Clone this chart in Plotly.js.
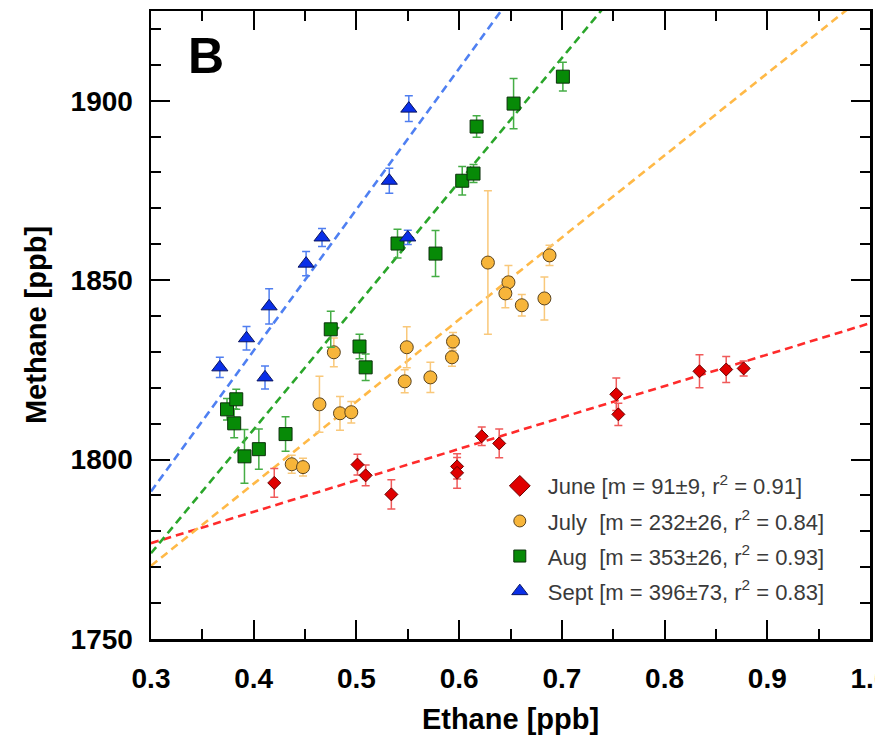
<!DOCTYPE html>
<html>
<head>
<meta charset="utf-8">
<script src="https://cdn.plot.ly/plotly-3.0.1.min.js"></script>
<style>
  html, body { margin: 0; padding: 0; background: #fff; }
  #chart { width: 875px; height: 736px; }
</style>
</head>
<body>
<div id="chart"></div>
<script>
// ---- Data ----
// June (red diamonds)
const juneX   = [0.420, 0.501, 0.509, 0.534, 0.598, 0.598, 0.622, 0.639, 0.753, 0.755, 0.834, 0.860, 0.877];
const juneY   = [1793.5, 1798.6, 1795.6, 1790.3, 1798.1, 1796.3, 1806.5, 1804.5, 1818.2, 1812.6, 1824.6, 1825.1, 1825.4];
const juneErr = [4.0, 2.9, 2.9, 4.1, 3.5, 4.3, 2.6, 4.0, 4.5, 3.1, 4.6, 3.6, 2.1];

// July (orange circles)
const julyX   = [0.437, 0.448, 0.464, 0.484, 0.495, 0.478, 0.549, 0.547, 0.572, 0.594, 0.593, 0.628, 0.648, 0.645, 0.661, 0.683, 0.688];
const julyY   = [1798.7, 1797.9, 1815.4, 1812.9, 1813.2, 1829.9, 1831.3, 1821.8, 1822.9, 1832.9, 1828.5, 1854.9, 1849.4, 1846.3, 1843.0, 1844.9, 1856.9];
const julyErr = [2.5, 2.5, 7.8, 4.7, 3.0, 4.0, 5.7, 3.2, 4.2, 2.5, 2.5, 20.0, 4.7, 4.0, 3.0, 6.0, 2.8];

// Aug (green squares)
const augX   = [0.374, 0.383, 0.381, 0.391, 0.405, 0.431, 0.475, 0.503, 0.509, 0.540, 0.577, 0.603, 0.614, 0.617, 0.653, 0.701];
const augY   = [1814.0, 1816.8, 1810.1, 1800.9, 1802.9, 1807.1, 1836.3, 1831.5, 1825.7, 1860.2, 1857.4, 1877.7, 1879.7, 1892.8, 1899.2, 1906.7];
const augErr = [3.0, 2.8, 4.0, 7.5, 5.6, 4.8, 5.0, 3.4, 3.7, 4.0, 6.4, 4.0, 2.5, 3.0, 7.0, 4.0];

// Sept (blue triangles)
const septX   = [0.367, 0.393, 0.415, 0.411, 0.451, 0.4665, 0.532, 0.550, 0.551];
const septY   = [1825.7, 1833.8, 1842.7, 1822.9, 1854.6, 1861.9, 1877.7, 1861.9, 1897.8];
const septErr = [2.8, 3.3, 4.9, 3.2, 3.4, 2.5, 3.5, 2.0, 3.6];

// Regression line end points (x = 0.3 and x = 1.0)
const fitX     = [0.3, 1.0];
const juneFitY = [1776.7, 1838.0];
const julyFitY = [1770.4, 1930.5];
const augFitY  = [1773.9, 2015.4];
const septFitY = [1791.1, 2066.2];

// Legend labels
const legendLabels = [
  'June [m = 91±9, r<sup>2</sup> = 0.91]',
  'July  [m = 232±26, r<sup>2</sup> = 0.84]',
  'Aug  [m = 353±26, r<sup>2</sup> = 0.93]',
  'Sept [m = 396±73, r<sup>2</sup> = 0.83]'
];

// Axis ticks
const xTickVals = [0.3, 0.4, 0.5, 0.6, 0.7, 0.8, 0.9, 1.0];
const xTickText = ['0.3', '0.4', '0.5', '0.6', '0.7', '0.8', '0.9', '1.0'];
const yTickVals = [1750, 1800, 1850, 1900];
const yTickText = ['1750', '1800', '1850', '1900'];

// ---- Styles ----
const S = {
  june: {fill: '#e00000', edge: '#6a0000', err: '#f05a5a', line: '#ff2b2b'},
  july: {fill: '#f7b53a', edge: '#5a4420', err: '#f9c87a', line: '#ffb947'},
  aug:  {fill: '#078a07', edge: '#0b300b', err: '#45ad45', line: '#2aa62a'},
  sept: {fill: '#0a2fe8', edge: '#0a1560', err: '#4f7ef0', line: '#4f80f2'}
};

function fitTrace(y, c) {
  return {x: fitX, y: y, mode: 'lines', type: 'scatter', showlegend: false, hoverinfo: 'skip',
          line: {color: c, width: 2.6, dash: '8px,5px'}};
}
function dataTrace(x, y, e, c, sym, size) {
  return {x: x, y: y, mode: 'markers', type: 'scatter', showlegend: false,
          error_y: {type: 'data', array: e, visible: true, color: c.err, thickness: 1.5, width: 4},
          marker: {symbol: sym, size: size, color: c.fill, line: {color: c.edge, width: 1}}};
}
function legendTrace(name, c, sym, size, g) {
  return {x: [null], y: [null], mode: 'markers', type: 'scatter', name: name, legendgroup: g,
          marker: {symbol: sym, size: size, color: c.fill, line: {color: c.edge, width: 1}}};
}

const traces = [
  fitTrace(juneFitY, S.june.line),
  fitTrace(julyFitY, S.july.line),
  fitTrace(augFitY, S.aug.line),
  fitTrace(septFitY, S.sept.line),
  dataTrace(juneX, juneY, juneErr, S.june, 'diamond', 10),
  dataTrace(julyX, julyY, julyErr, S.july, 'circle', 13),
  dataTrace(augX, augY, augErr, S.aug, 'square', 13),
  dataTrace(septX, septY, septErr, S.sept, 'triangle-up', 14),
  legendTrace(legendLabels[0], S.june, 'diamond', 20, 'g1'),
  legendTrace(legendLabels[1], S.july, 'circle', 12, 'g2'),
  legendTrace(legendLabels[2], S.aug, 'square', 12, 'g3'),
  legendTrace(legendLabels[3], S.sept, 'triangle-up', 14, 'g4')
];

const axisFont = {family: 'Liberation Sans, Arial, sans-serif', size: 28, color: '#000', weight: 'bold'};

const layout = {
  width: 875, height: 736,
  margin: {l: 151, r: 5, t: 11, b: 97, pad: 0},
  paper_bgcolor: '#fff', plot_bgcolor: '#fff',
  font: {family: 'Liberation Sans, Arial, sans-serif', color: '#000'},
  xaxis: {
    range: [0.3, 1.0], tickvals: xTickVals, ticktext: xTickText,
    ticks: 'inside', ticklen: 19, tickwidth: 2, tickcolor: '#000',
    minor: {dtick: 0.05, tick0: 0.3, ticks: 'inside', ticklen: 10, tickwidth: 2, tickcolor: '#000', showgrid: false},
    showline: true, linecolor: '#000', linewidth: 2.5, mirror: 'allticks',
    showgrid: false, zeroline: false,
    tickfont: axisFont, ticklabelstandoff: 13, ticklabeloverflow: 'allow',
    title: {text: '<b>Ethane [ppb]</b>', font: {family: 'Liberation Sans, Arial, sans-serif', size: 29, color: '#000'}, standoff: 16}
  },
  yaxis: {
    range: [1750, 1925], tickvals: yTickVals, ticktext: yTickText,
    ticks: 'inside', ticklen: 19, tickwidth: 2, tickcolor: '#000',
    minor: {dtick: 10, tick0: 1750, ticks: 'inside', ticklen: 10, tickwidth: 2, tickcolor: '#000', showgrid: false},
    showline: true, linecolor: '#000', linewidth: 2.5, mirror: 'allticks',
    showgrid: false, zeroline: false,
    tickfont: axisFont, ticklabelstandoff: 10,
    title: {text: '<b>Methane [ppb]</b>', font: {family: 'Liberation Sans, Arial, sans-serif', size: 29, color: '#000'}, standoff: 16}
  },
  legend: {
    x: 0.474, y: 0.277, xanchor: 'left', yanchor: 'top',
    bgcolor: 'rgba(0,0,0,0)', borderwidth: 0,
    font: {family: 'Liberation Sans, Arial, sans-serif', size: 22, color: '#3a3a3a'},
    tracegroupgap: 3.5, itemsizing: 'trace', itemwidth: 46
  },
  annotations: [
    {xref: 'paper', yref: 'paper', x: 0.076, y: 0.928, xanchor: 'center', yanchor: 'middle',
     text: '<b>B</b>', showarrow: false,
     font: {family: 'Liberation Sans, Arial, sans-serif', size: 50, color: '#000'}}
  ],
  showlegend: true
};

Plotly.newPlot('chart', traces, layout, {displayModeBar: false, staticPlot: true});
</script>
</body>
</html>
